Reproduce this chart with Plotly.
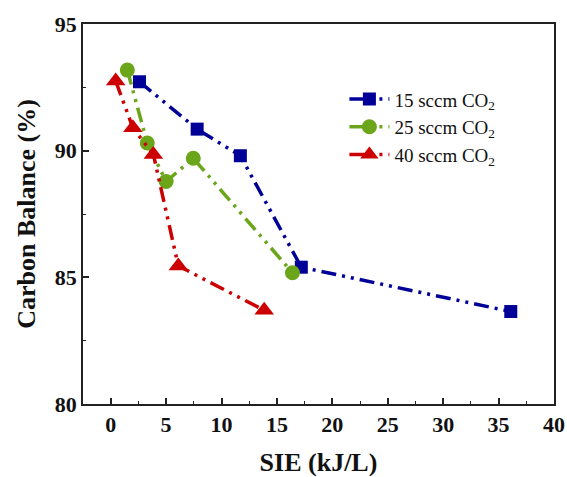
import plotly.graph_objects as go

# Data
sie_15 = [2.6, 7.8, 11.7, 17.2, 36.1]
cb_15 = [92.72, 90.85, 89.8, 85.4, 83.65]
sie_25 = [1.5, 3.3, 5.0, 7.45, 16.4]
cb_25 = [93.18, 90.3, 88.78, 89.7, 85.18]
sie_40 = [0.45, 2.0, 3.85, 6.1, 13.85]
cb_40 = [92.75, 90.9, 89.85, 85.45, 83.7]

names = ["15 sccm CO<sub>2</sub>", "25 sccm CO<sub>2</sub>", "40 sccm CO<sub>2</sub>"]
colors = ["#000099", "#6aa51a", "#cc0000"]
symbols = ["square", "circle", "triangle-up"]
sizes = [13, 15, 17]
xs = [sie_15, sie_25, sie_40]
ys = [cb_15, cb_25, cb_40]

fig = go.Figure()
for x, y, n, c, s, sz in zip(xs, ys, names, colors, symbols, sizes):
    fig.add_trace(go.Scatter(
        x=x, y=y, name=n, mode="lines+markers",
        line=dict(color=c, width=3.5, dash="15px,6px,3px,6px,3px,6px"),
        marker=dict(symbol=s, color=c, size=sz),
    ))

font_family = "Liberation Serif, Times New Roman, serif"
axis_common = dict(
    showline=True, linecolor="#222", linewidth=1.5, mirror=True,
    ticks="inside", ticklen=6, tickwidth=1.5, tickcolor="#222",
    showgrid=False, zeroline=False, automargin=False,
    tickfont=dict(family=font_family, size=22, color="#111"),
)

fig.update_xaxes(
    range=[-2.5, 40], tickvals=[0, 5, 10, 15, 20, 25, 30, 35, 40],
    ticktext=["<b>%d</b>" % v for v in [0, 5, 10, 15, 20, 25, 30, 35, 40]],
    minor=dict(ticks="inside", ticklen=3, tickwidth=1.2, tickcolor="#222", dtick=2.5, tick0=0),
    title=dict(text="<b>SIE (kJ/L)</b>", font=dict(family=font_family, size=26, color="#111"), standoff=18),
    **axis_common,
)
fig.update_yaxes(
    range=[80, 95], tickvals=[80, 85, 90, 95],
    ticktext=["<b>%d</b>" % v for v in [80, 85, 90, 95]],
    minor=dict(ticks="inside", ticklen=3, tickwidth=1.2, tickcolor="#222", dtick=2.5, tick0=80),
    title=dict(text="<b>Carbon Balance (%)</b>", font=dict(family=font_family, size=26, color="#111"), standoff=12),
    **axis_common,
)

fig.update_layout(
    width=567, height=477,
    margin=dict(l=83, r=13, t=24, b=73),
    paper_bgcolor="white", plot_bgcolor="white",
    showlegend=True,
    legend=dict(
        x=0.555, y=0.852, xanchor="left", yanchor="top",
        font=dict(family=font_family, size=19, color="#111"),
        bgcolor="rgba(0,0,0,0)", tracegroupgap=0, itemwidth=40,
    ),
)

fig.write_html(
    "out.html",
    config={"displayModeBar": False},
    post_script="document.body.style.margin='0';document.body.style.overflow='hidden';",
)
